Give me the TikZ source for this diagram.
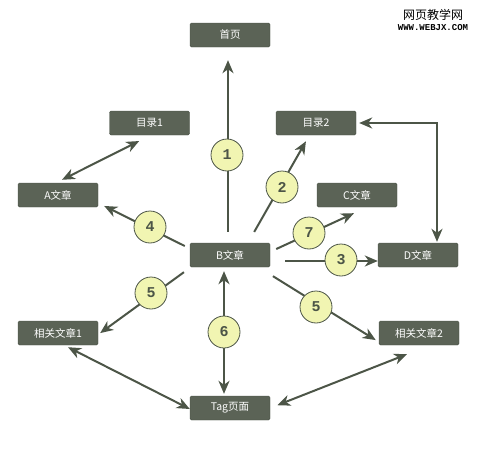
\documentclass[tikz,border=0pt]{standalone}
\usepackage{fontspec}
\newfontfamily\cjk{Noto Sans CJK SC}
\newfontfamily\numfont[BoldFont={Liberation Mono Bold}]{Liberation Mono}
\usetikzlibrary{arrows.meta,calc}
\definecolor{boxfill}{HTML}{5B6356}
\definecolor{boxline}{HTML}{4A5246}
\definecolor{arrowc}{HTML}{4C5547}
\definecolor{circfill}{HTML}{F1F5B2}
\tikzset{
  page/.style={draw=boxline, fill=boxfill, rounded corners=1.5pt, minimum width=80pt, minimum height=24pt, inner sep=0pt, text=white, font=\cjk\fontsize{10.5}{12}\selectfont},
  link/.style={draw=arrowc, line width=2pt, -{Stealth[length=13pt,width=11pt,inset=4pt]}},
  blink/.style={draw=arrowc, line width=2pt, {Stealth[length=13pt,width=11pt,inset=4pt]}-{Stealth[length=13pt,width=11pt,inset=4pt]}},
  numc/.style={circle, draw=arrowc, line width=0.8pt, fill=circfill, minimum size=32pt, inner sep=0pt, text=arrowc, font=\numfont\bfseries\fontsize{15}{15}\selectfont}
}
\begin{document}
\begin{tikzpicture}[x=1pt,y=-1pt]
\useasboundingbox (0,0) rectangle (480,450);
% nodes
\node[page] (home) at (230,35) {首页};
\node[page] (m1) at (149.5,123) {目录1};
\node[page] (m2) at (316,123) {目录2};
\node[page] (A) at (58,195) {A文章};
\node[page] (C) at (357,195) {C文章};
\node[page] (B) at (230,255) {B文章};
\node[page] (D) at (418,255) {D文章};
\node[page] (r1) at (58,333) {相关文章1};
\node[page] (r2) at (419,333) {相关文章2};
\node[page] (tag) at (230,408) {Tag页面};
% watermark
\node[font=\cjk\fontsize{12}{12}\selectfont, inner sep=0pt] (wm1) at (433,15) {网页教学网};
\node[font=\numfont\bfseries\fontsize{9}{9}\selectfont, inner sep=0pt] (wm2) at (433,28) {WWW.WEBJX.COM};
% connectors
\draw[link, shorten <=11pt, shorten >=13pt] ($(B.north)+(-2,0)$) -- ($(home.south)+(-2,0)$);
\draw[link, shorten <=12.5pt, shorten >=7pt] ($(B.north)+(18,0)$) -- ($(m2.south)+(-6.6,0)$);
\draw[blink, shorten <=6.7pt, shorten >=13pt] ($(A.north)+(-2,0)$) -- ($(m1.south)+(1.3,0)$);
\draw[link, shorten <=5.6pt, shorten >=6.7pt] ($(B.west)+(0,-6.5)$) -- ($(A.east)+(0,8)$);
\draw[link, shorten <=6.6pt, shorten >=14.3pt] ($(B.east)+(0,-3.2)$) -- ($(C.south)+(10,0)$);
\draw[link, shorten <=15pt] ($(B.east)+(0,6)$) -- ($(D.west)+(0,6)$);
\draw[blink, shorten <=1pt, shorten >=3pt] ($(D.north)+(19,0)$) |- (m2.east);
\draw[link, shorten <=8.5pt, shorten >=2.4pt] ($(B.south west)+(1,0)$) -- ($(r1.east)+(0,1.5)$);
\draw[link, shorten <=17pt, shorten >=3.6pt] ($(B.south)+(28.5,0)$) -- ($(r2.west)+(0,9)$);
\draw[blink, shorten <=4pt, shorten >=2pt] ($(B.south)+(-6,0)$) -- ($(tag.north)+(-6,0)$);
\draw[blink, shorten <=4.5pt] ($(r1.south)+(6,0)$) -- ($(tag.west)+(0,1)$);
\draw[blink, shorten <=24.7pt, shorten >=7.6pt] ($(r2.south)+(11,0)$) -- (tag.east);
% number circles
\node[numc] (n1) at (227,155) {1};
\node[numc] (n2) at (282,187) {2};
\node[numc] (n4) at (150,227) {4};
\node[numc] (n7) at (309,233) {7};
\node[numc] (n3) at (341,260) {3};
\node[numc] (n5a) at (151,293) {5};
\node[numc] (n5b) at (316,307) {5};
\node[numc] (n6) at (224,332) {6};
\end{tikzpicture}
\end{document}
